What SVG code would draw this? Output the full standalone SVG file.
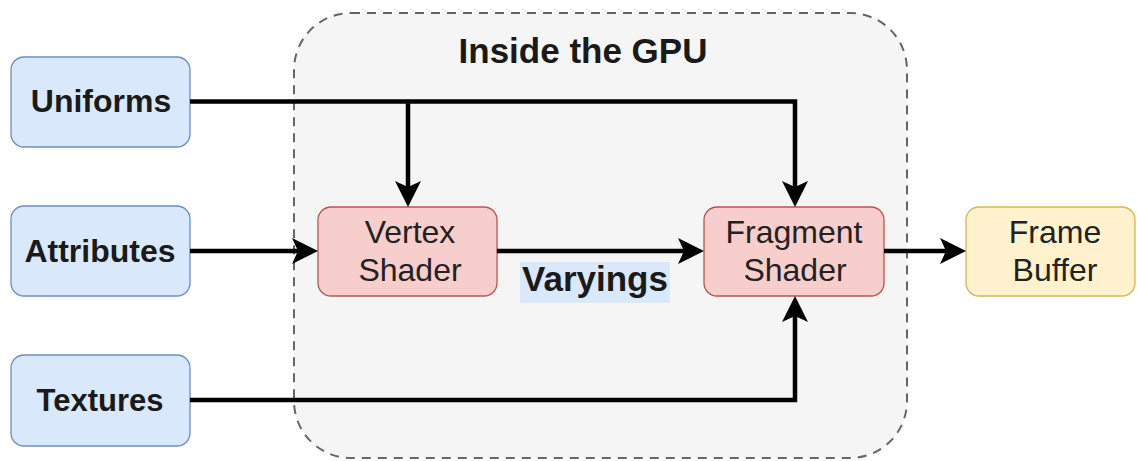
<svg xmlns="http://www.w3.org/2000/svg" width="1137" height="461" viewBox="0 0 1137 461">
<style>
.bold{font-family:"Liberation Sans",Arial,sans-serif;font-weight:bold;fill:#1a1a1a;text-anchor:middle}
.reg{font-family:"Liberation Sans",Arial,sans-serif;fill:#222;text-anchor:middle;font-size:32px}
.blue{fill:#dae8fc;stroke:#6c8ebf;stroke-width:1.3}
.red{fill:#f8cecc;stroke:#b85450;stroke-width:1.3}
.yellow{fill:#fff2cc;stroke:#d6b656;stroke-width:1.3}
.conn{fill:none;stroke:#000;stroke-width:4.5;stroke-linejoin:miter;marker-end:url(#arrow)}
.plain{fill:none;stroke:#000;stroke-width:4.5}
</style>
<defs>
<marker id="arrow" markerUnits="userSpaceOnUse" viewBox="0 0 26 26" refX="6" refY="13" markerWidth="26" markerHeight="26" orient="auto">
<path d="M0,0 L26,13 L0,26 L6,13 Z" fill="#000"/>
</marker>
</defs>
<rect width="1137" height="461" fill="#fff"/>
<g id="gpu">
<rect x="294" y="13" width="613" height="445" rx="57" ry="57" fill="#f5f5f5" stroke="#666" stroke-width="2" stroke-dasharray="9 7"/>
<text class="bold" x="583" y="63" font-size="35">Inside the GPU</text>
</g>
<g id="uniforms">
<rect class="blue" x="11" y="57" width="179" height="90" rx="13"/>
<text class="bold" x="101" y="112" font-size="32">Uniforms</text>
</g>
<g id="attributes">
<rect class="blue" x="11" y="206" width="179" height="90" rx="13"/>
<text class="bold" x="100" y="262" font-size="32">Attributes</text>
</g>
<g id="textures">
<rect class="blue" x="11" y="355" width="179" height="91" rx="13"/>
<text class="bold" x="100" y="411" font-size="31">Textures</text>
</g>
<g id="vertex">
<rect class="red" x="318" y="207" width="179" height="89" rx="13"/>
<text class="reg" x="410" y="243">Vertex</text>
<text class="reg" x="410" y="281">Shader</text>
</g>
<g id="fragment">
<rect class="red" x="704" y="207" width="180" height="89" rx="13"/>
<text class="reg" x="794" y="243">Fragment</text>
<text class="reg" x="795" y="281">Shader</text>
</g>
<g id="framebuffer">
<rect class="yellow" x="966" y="207" width="169" height="89" rx="13"/>
<text class="reg" x="1055" y="243">Frame</text>
<text class="reg" x="1055" y="281">Buffer</text>
</g>
<g id="connectors">
<path class="conn" d="M190,101.5 H795 V187"/>
<path class="conn" d="M408,101.5 V187"/>
<path class="conn" d="M190,251 H298"/>
<path class="conn" d="M497,251 H684"/>
<path class="conn" d="M884,251 H946"/>
<path class="conn" d="M190,400 H795 V316"/>
</g>
<g id="varyings">
<rect x="520" y="262" width="150" height="41" fill="#dae8fc"/>
<text class="bold" x="595" y="291" font-size="35">Varyings</text>
</g>
</svg>
